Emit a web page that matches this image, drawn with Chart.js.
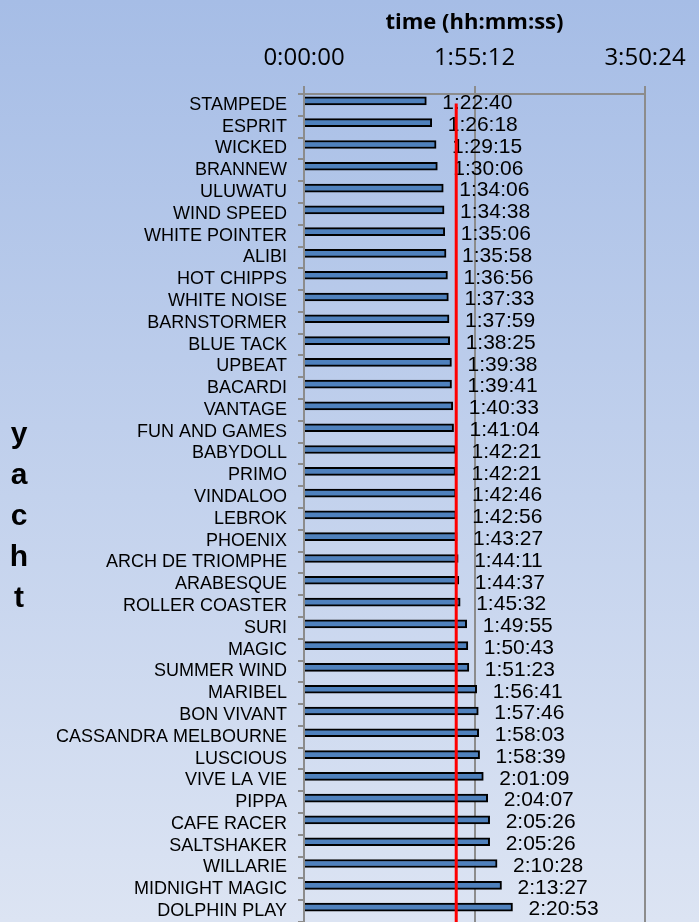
<!DOCTYPE html>
<html>
<head>
<meta charset="utf-8">
<script src="https://cdn.jsdelivr.net/npm/chart.js@4.4.0/dist/chart.umd.min.js"></script>
<style>
  html, body { margin: 0; padding: 0; }
  body {
    width: 699px; height: 922px; overflow: hidden;
    background: linear-gradient(to bottom, #a6bde6 0%, #dce4f3 100%);
  }
</style>
</head>
<body>
<canvas id="chart" width="699" height="922"></canvas>
<script>
const yachts = [
  'STAMPEDE', 'ESPRIT', 'WICKED', 'BRANNEW', 'ULUWATU', 'WIND SPEED',
  'WHITE POINTER', 'ALIBI', 'HOT CHIPPS', 'WHITE NOISE', 'BARNSTORMER',
  'BLUE TACK', 'UPBEAT', 'BACARDI', 'VANTAGE', 'FUN AND GAMES', 'BABYDOLL',
  'PRIMO', 'VINDALOO', 'LEBROK', 'PHOENIX', 'ARCH DE TRIOMPHE', 'ARABESQUE',
  'ROLLER COASTER', 'SURI', 'MAGIC', 'SUMMER WIND', 'MARIBEL', 'BON VIVANT',
  'CASSANDRA MELBOURNE', 'LUSCIOUS', 'VIVE LA VIE', 'PIPPA', 'CAFE RACER',
  'SALTSHAKER', 'WILLARIE', 'MIDNIGHT MAGIC', 'DOLPHIN PLAY'
];
const times = [
  '1:22:40', '1:26:18', '1:29:15', '1:30:06', '1:34:06', '1:34:38',
  '1:35:06', '1:35:58', '1:36:56', '1:37:33', '1:37:59',
  '1:38:25', '1:39:38', '1:39:41', '1:40:33', '1:41:04', '1:42:21',
  '1:42:21', '1:42:46', '1:42:56', '1:43:27', '1:44:11', '1:44:37',
  '1:45:32', '1:49:55', '1:50:43', '1:51:23', '1:56:41', '1:57:46',
  '1:58:03', '1:58:39', '2:01:09', '2:04:07', '2:05:26',
  '2:05:26', '2:10:28', '2:13:27', '2:20:53'
];
const medianTime = '1:42:51';
const xTicks = ['0:00:00', '1:55:12', '3:50:24'];
const yTitleLetters = ['y', 'a', 'c', 'h', 't'];

function toSec(s) {
  const p = s.split(':').map(Number);
  return p[0] * 3600 + p[1] * 60 + p[2];
}
function fmt(sec) {
  const h = Math.floor(sec / 3600);
  const m = Math.floor((sec % 3600) / 60);
  const s = Math.round(sec % 60);
  return h + ':' + String(m).padStart(2, '0') + ':' + String(s).padStart(2, '0');
}

const values = times.map(toSec);
const gridGray = '#8c8c8c';
const arial = 'Arial, "Liberation Sans", sans-serif';

// value labels to the right of each bar + red median line + stacked y title
const overlay = {
  id: 'overlay',
  afterDatasetsDraw(chart) {
    const ctx = chart.ctx;
    const meta = chart.getDatasetMeta(0);
    ctx.save();
    ctx.font = '21px ' + arial;
    ctx.fillStyle = '#000';
    ctx.textAlign = 'left';
    ctx.textBaseline = 'middle';
    meta.data.forEach((bar, i) => {
      ctx.fillText(times[i], bar.x + 16, bar.y + 2.5);
    });

    const xs = chart.scales.x, ys = chart.scales.y;
    const x = xs.getPixelForValue(toSec(medianTime));
    ctx.strokeStyle = '#ff0000';
    ctx.lineWidth = 3;
    ctx.beginPath();
    ctx.moveTo(x, ys.getPixelForValue(0) - 1.5);
    ctx.lineTo(x, chart.chartArea.bottom);
    ctx.stroke();

    ctx.font = 'bold 30px ' + arial;
    ctx.textAlign = 'center';
    ctx.textBaseline = 'alphabetic';
    const mid = (chart.chartArea.top + chart.chartArea.bottom) / 2;
    yTitleLetters.forEach((ch, i) => {
      ctx.fillText(ch, 19, mid + 17 + (i - 2) * 41);
    });
    ctx.restore();
  }
};

new Chart(document.getElementById('chart'), {
  type: 'bar',
  data: {
    labels: yachts,
    datasets: [{
      data: values,
      backgroundColor: '#4f81bd',
      borderColor: '#000',
      borderWidth: 2,
      barThickness: 8
    }, {
      // empty spacer series (pushes the bars up in each slot)
      data: yachts.map(() => null),
      barThickness: 6
    }]
  },
  options: {
    indexAxis: 'y',
    responsive: false,
    animation: false,
    devicePixelRatio: 1,
    layout: { padding: { left: 0, right: 54, top: 0, bottom: 0 } },
    plugins: {
      legend: { display: false },
      tooltip: { enabled: false }
    },
    scales: {
      x: {
        type: 'linear',
        position: 'top',
        min: toSec(xTicks[0]),
        max: toSec(xTicks[2]),
        afterFit(scale) { scale.height = 94; },
        afterBuildTicks(scale) {
          scale.ticks = xTicks.map(t => ({ value: toSec(t) }));
        },
        ticks: {
          callback: v => fmt(v),
          color: '#000',
          padding: 13,
          font: { family: '"Open Sans", sans-serif', size: 24 }
        },
        grid: { color: gridGray, lineWidth: 2, tickLength: 8 },
        border: { display: true, color: gridGray, width: 2 },
        title: {
          display: true,
          text: 'time (hh:mm:ss)',
          color: '#000',
          padding: { top: 10, bottom: 0 },
          font: { family: '"Open Sans", sans-serif', size: 22, weight: 'bold' }
        }
      },
      y: {
        type: 'category',
        afterFit(scale) {
          scale.width = 304;
          scale.paddingTop = 0;
          scale.paddingBottom = 0;
        },
        ticks: {
          color: '#000',
          padding: 11,
          autoSkip: false,
          font: { family: arial, size: 18 }
        },
        grid: {
          drawOnChartArea: false,
          drawTicks: true,
          tickLength: 6,
          color: gridGray,
          lineWidth: 2,
          offset: true
        },
        border: { display: true, color: gridGray, width: 2 }
      }
    }
  },
  plugins: [overlay]
});
</script>
</body>
</html>
